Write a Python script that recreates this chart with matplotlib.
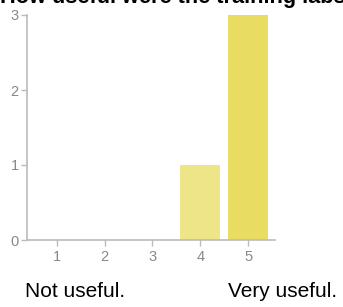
import matplotlib as mpl
mpl.use('Agg')
import matplotlib.pyplot as plt

plt.rcParams['font.family'] = ['Liberation Sans', 'DejaVu Sans']

title = "How useful were the training labs?"
ratings = [1, 2, 3, 4, 5]
counts = [0, 0, 0, 1, 3]
colors = ["#EDE387", "#EDE387", "#EDE387", "#EEE488", "#E8DC62"]
low_label = "Not useful."
high_label = "Very useful."

fig = plt.figure(figsize=(3.43, 3.07), dpi=100)
ax = fig.add_axes([27/343, 1-240/307, 248/343, 225/307])

ax.bar(ratings, counts, width=0.83, color=colors, zorder=2)

ax.set_xlim(0.38, 5.56)
ax.set_ylim(0, 3)
ax.set_xticks(ratings)
ax.set_yticks([0, 1, 2, 3])

for s in ['top', 'right']:
    ax.spines[s].set_visible(False)
for s in ['left', 'bottom']:
    ax.spines[s].set_color('#bbbbbb')
    ax.spines[s].set_linewidth(1.2)
ax.tick_params(colors='#bbbbbb', labelcolor='#888888', labelsize=10.5, length=4, width=1)
ax.tick_params(axis='x', pad=3)
ax.tick_params(axis='y', pad=2)

# title is clipped at the top edge, like the reference
fig.text(0, 1 - 2.5/307, title, fontsize=15.7, fontweight='bold', ha='left', va='baseline')
fig.text(25/343, 1 - 297/307, low_label, fontsize=15, ha='left', va='baseline')
fig.text(228/343, 1 - 297/307, high_label, fontsize=15, ha='left', va='baseline')

fig.savefig("out.png", dpi=100)
